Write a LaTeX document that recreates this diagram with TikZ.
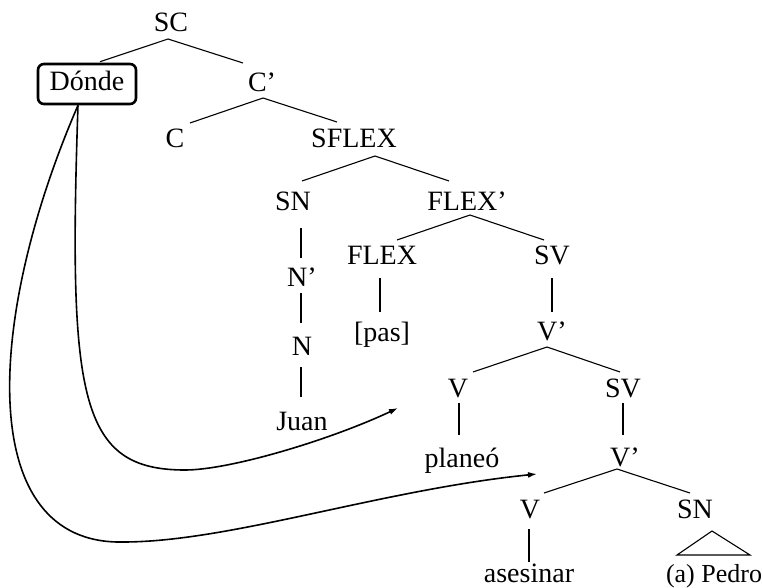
\documentclass[tikz,border=0pt]{standalone}
\usepackage{fontspec}
\setmainfont{Liberation Serif}
\usetikzlibrary{calc,arrows.meta}
\begin{document}
\begin{tikzpicture}[x=1pt,y=-1pt,
  lab/.style={anchor=base,inner sep=0pt,font=\fontsize{28}{34}\selectfont},
  edge/.style={line width=1.1pt},
  mov/.style={line width=1.6pt,-{Latex[length=9pt,width=6pt]}},
  boxed/.style={draw,line width=2.6pt,rounded corners=6pt,minimum width=98pt,minimum height=40pt,inner sep=0pt,
    text height=19pt,text depth=5pt,font=\fontsize{28}{34}\selectfont}]
\useasboundingbox (0,0) rectangle (763,588);
% nodes
\node[lab] (sc) at (171,32) {SC};
\node[boxed] (don) at (87,84) {Dónde};
\node[lab] (cp1) at (262,92) {C’};
\node[lab] (c) at (175,148) {C};
\node[lab] (sflex) at (354,148) {SFLEX};
\node[lab] (sn1) at (293,211) {SN};
\node[lab] (flexp) at (467,211) {FLEX’};
\node[lab] (flex) at (382,265) {FLEX};
\node[lab] (sv1) at (552,265) {SV};
\node[lab] (np) at (302,286) {N’};
\node[lab] (n) at (302,355) {N};
\node[lab] (juan) at (302,430) {Juan};
\node[lab] (pas) at (382,341) {[pas]};
\node[lab] (vp1) at (552,340) {V’};
\node[lab] (v1) at (458,397) {V};
\node[lab] (sv2) at (623,397) {SV};
\node[lab] (planeo) at (462,467) {planeó};
\node[lab] (vp2) at (625,466) {V’};
\node[lab] (v2) at (530,518) {V};
\node[lab] (sn2) at (695,518) {SN};
\node[lab] (asesinar) at (529,582) {asesinar};
\node[lab,font=\fontsize{26}{32}\selectfont] (pedro) at (714,582) {(a) Pedro};
% tree edges
\draw[edge] ($(sc.base)+(-3,7)$) -- ($(don.north)+(13,-1)$);
\draw[edge] ($(sc.base)+(-3,7)$) -- ($(cp1.base)+(-19,-29)$);
\draw[edge] ($(cp1.base)+(1,6)$) -- ($(c.base)+(15,-25)$);
\draw[edge] ($(cp1.base)+(1,6)$) -- ($(sflex.base)+(-17,-26)$);
\draw[edge] ($(sflex.base)+(21,8)$) -- ($(sn1.base)+(9,-30)$);
\draw[edge] ($(sflex.base)+(21,8)$) -- ($(flexp.base)+(-18,-30)$);
\draw[edge] ($(flexp.base)+(3,4)$) -- ($(flex.base)+(15,-25)$);
\draw[edge] ($(flexp.base)+(3,4)$) -- ($(sv1.base)+(-8,-25)$);
\draw[edge] ($(sn1.base)+(8,17)$) -- ($(np.base)+(-1,-28)$);
\draw[edge] ($(np.base)+(-1,7)$) -- ($(n.base)+(-1,-32)$);
\draw[edge] ($(n.base)+(-1,12)$) -- ($(juan.base)+(-1,-33)$);
\draw[edge] ($(flex.base)+(-2,13)$) -- ($(pas.base)+(-2,-29)$);
\draw[edge] ($(sv1.base)+(0,13)$) -- ($(vp1.base)+(0,-28)$);
\draw[edge] ($(vp1.base)+(-5,7)$) -- ($(v1.base)+(15,-25)$);
\draw[edge] ($(vp1.base)+(-5,7)$) -- ($(sv2.base)+(-3,-25)$);
\draw[edge] ($(v1.base)+(1,6)$) -- ($(planeo.base)+(-3,-32)$);
\draw[edge] ($(sv2.base)+(0,6)$) -- ($(vp2.base)+(-2,-31)$);
\draw[edge] ($(vp2.base)+(-8,3)$) -- ($(v2.base)+(14,-25)$);
\draw[edge] ($(vp2.base)+(-8,3)$) -- ($(sn2.base)+(-5,-25)$);
\draw[edge] ($(v2.base)+(-1,11)$) -- ($(asesinar.base)+(0,-20)$);
\draw[edge,line join=miter] ($(sn2.base)+(17,13)$) -- ($(pedro.base)+(-37,-27)$) -- ($(pedro.base)+(36,-27)$) -- cycle;
% movement arrows
\coordinate (t1) at (398,408);
\coordinate (t2) at (537,474);
\draw[mov] ($(don.south)+(-9,0)$) .. controls (68,400) and (80,470) .. (185,470)
  .. controls (230,470) and (330,440) .. (t1);
\draw[mov] ($(don.south)+(-9,0)$) .. controls (-15,320) and (-25,545) .. (123,542)
  .. controls (230,542) and (380,490) .. (t2);
\end{tikzpicture}
\end{document}
